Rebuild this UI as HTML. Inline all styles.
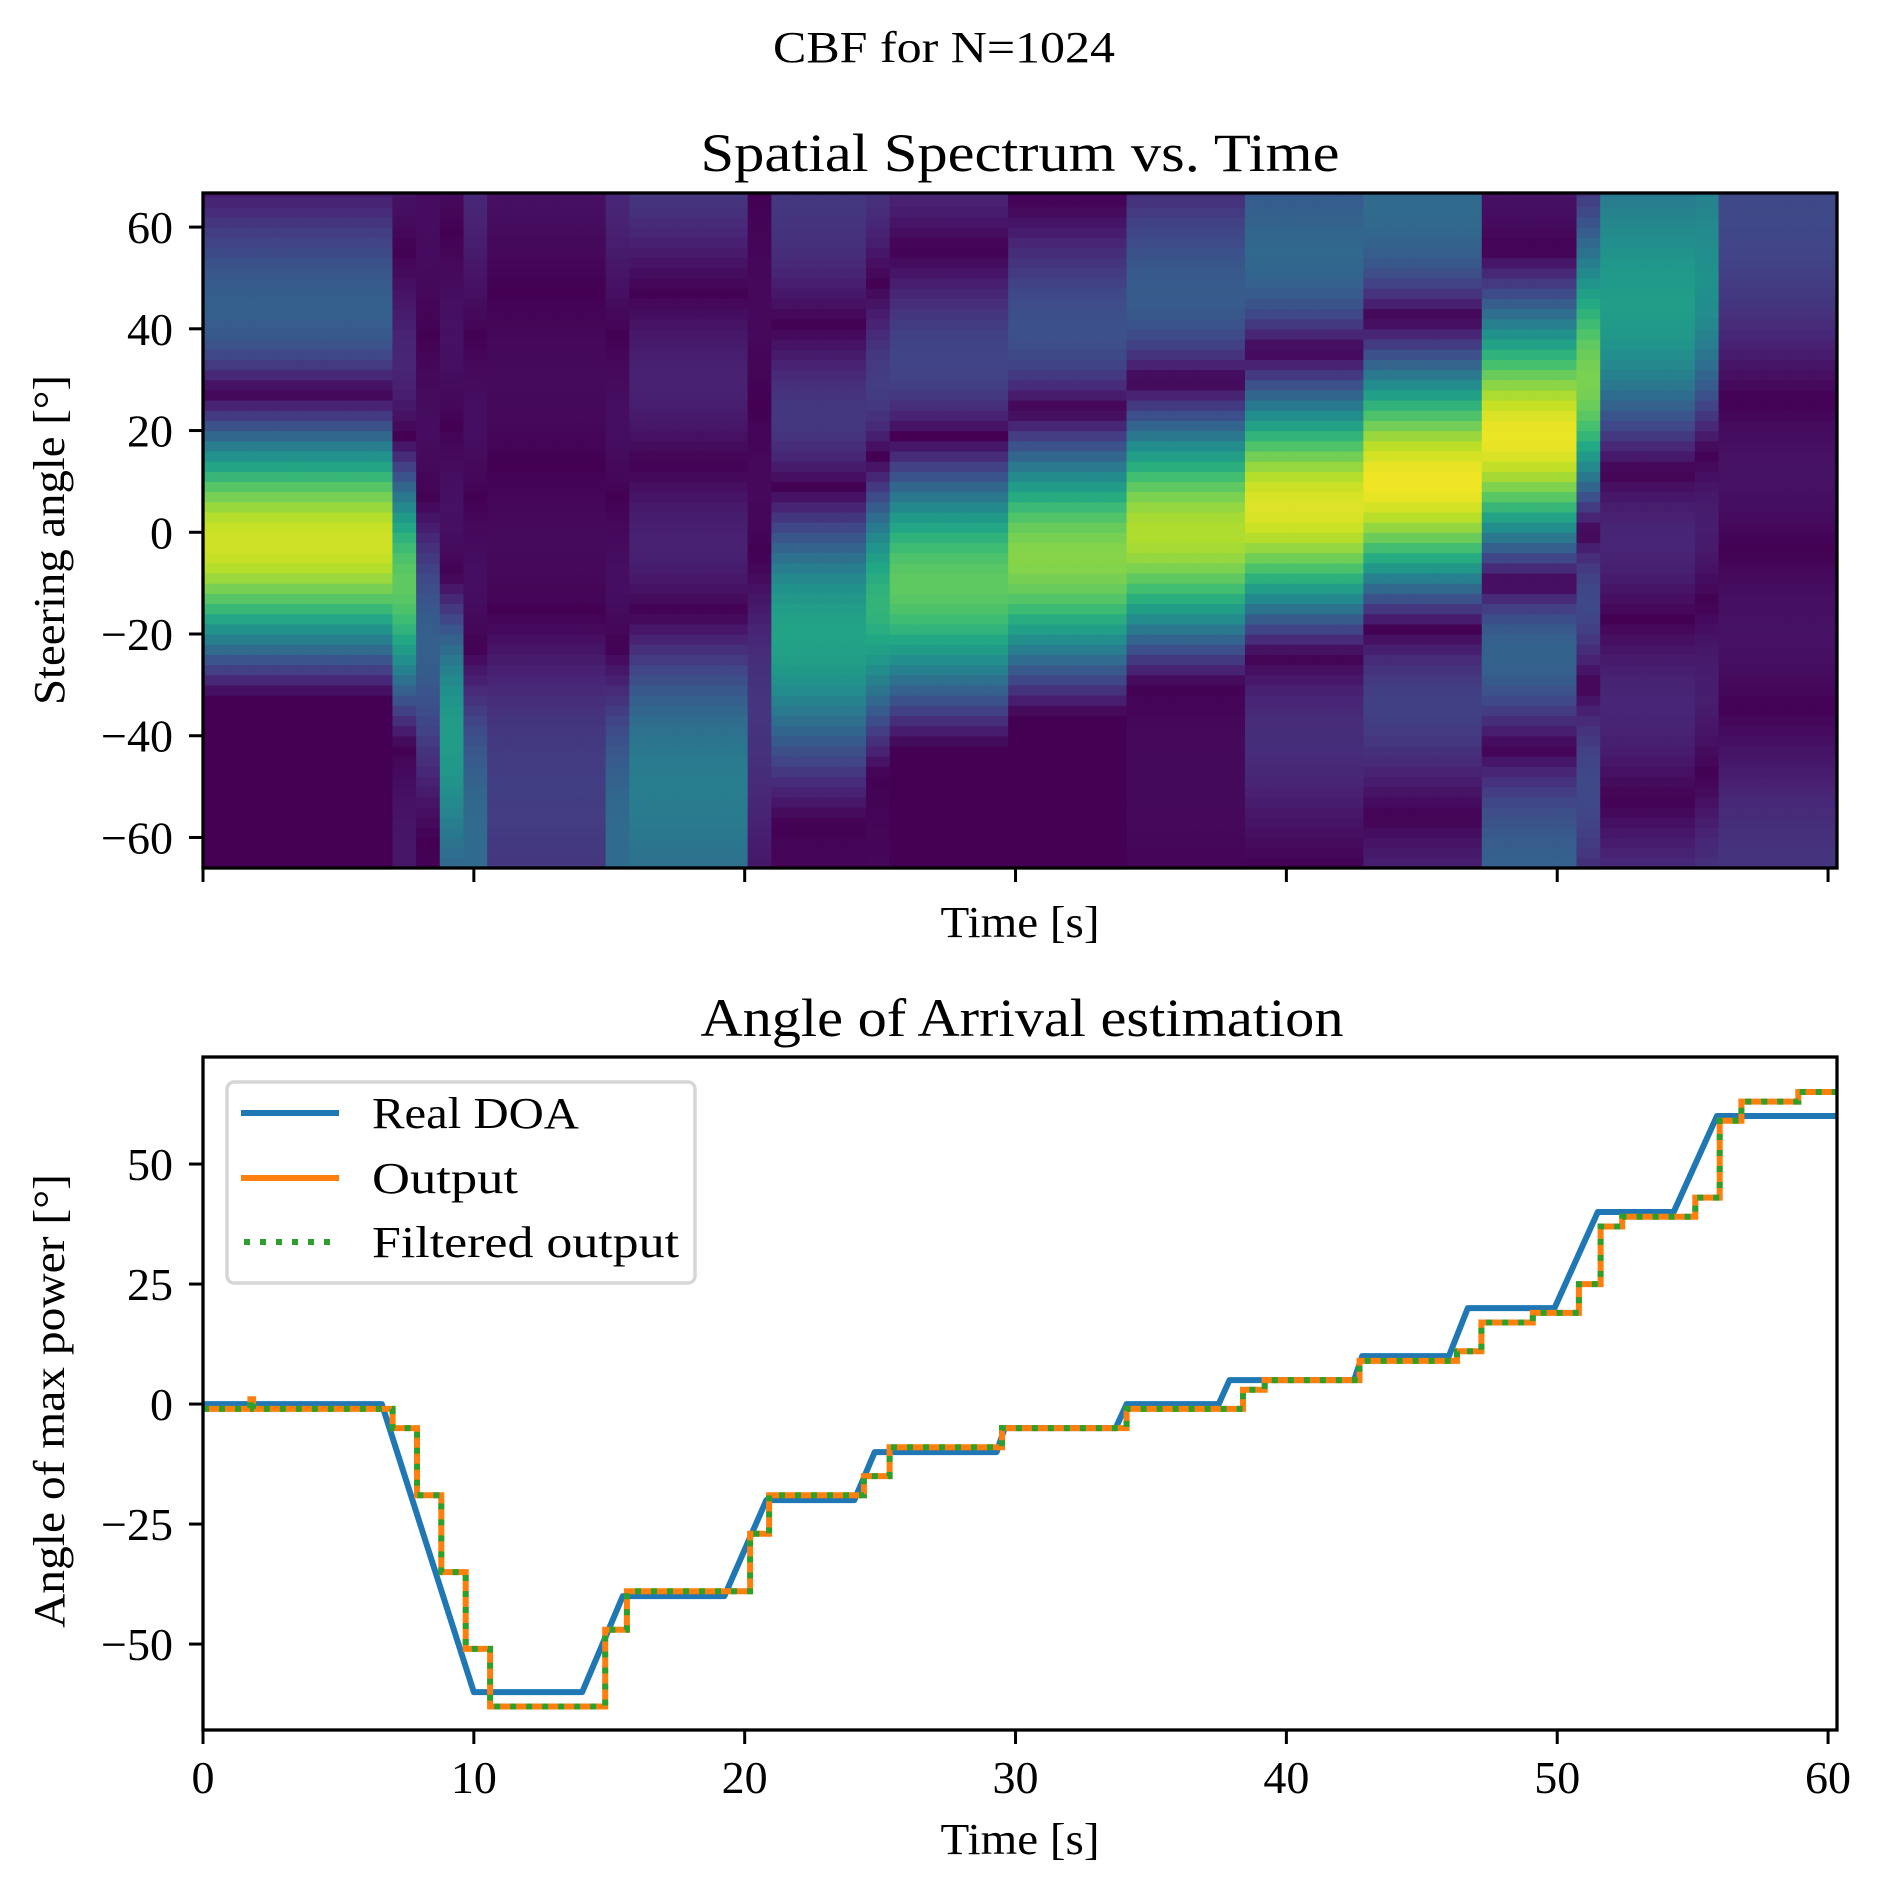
<!DOCTYPE html>
<html><head><meta charset="utf-8"><style>
html,body{margin:0;padding:0;background:#fff;}
svg text{font-family:"Liberation Serif","DejaVu Serif",serif;fill:#000;}
</style></head><body>
<svg id="fig" xmlns="http://www.w3.org/2000/svg" width="1880" height="1892" viewBox="0 0 1880 1892">
<rect x="0" y="0" width="1880" height="1892" fill="#fff"/>
<text x="944" y="62" font-size="44" text-anchor="middle" textLength="342" lengthAdjust="spacingAndGlyphs">CBF for N=1024</text>
<text x="1020" y="171" font-size="54" text-anchor="middle" textLength="639" lengthAdjust="spacingAndGlyphs">Spatial Spectrum vs. Time</text>
<g id="heat"></g>
<g id="topaxes"></g>
<text x="1020" y="937" font-size="44" text-anchor="middle" textLength="159" lengthAdjust="spacingAndGlyphs">Time [s]</text>
<text x="0" y="0" font-size="44" text-anchor="middle" textLength="330" lengthAdjust="spacingAndGlyphs" transform="translate(64,540) rotate(-90)">Steering angle [°]</text>
<text x="1022" y="1036" font-size="54" text-anchor="middle" textLength="643" lengthAdjust="spacingAndGlyphs">Angle of Arrival estimation</text>
<g id="lines"></g>
<g id="botaxes"></g>
<text x="1020" y="1854" font-size="44" text-anchor="middle" textLength="159" lengthAdjust="spacingAndGlyphs">Time [s]</text>
<text x="0" y="0" font-size="44" text-anchor="middle" textLength="454" lengthAdjust="spacingAndGlyphs" transform="translate(64,1401) rotate(-90)">Angle of max power [°]</text>
<g>
<rect x="227" y="1082" width="468" height="201" rx="7" fill="#fff" stroke="#d6d6d6" stroke-width="3.5"/>
<line x1="241" y1="1113" x2="339" y2="1113" stroke="#1f77b4" stroke-width="6"/>
<text x="372" y="1128" font-size="44" textLength="207" lengthAdjust="spacingAndGlyphs">Real DOA</text>
<line x1="241" y1="1178" x2="339" y2="1178" stroke="#ff7f0e" stroke-width="6"/>
<text x="372" y="1193" font-size="44" textLength="146" lengthAdjust="spacingAndGlyphs">Output</text>
<line x1="244" y1="1242" x2="339" y2="1242" stroke="#2ca02c" stroke-width="6" stroke-dasharray="6,10"/>
<text x="372" y="1257" font-size="44" textLength="307" lengthAdjust="spacingAndGlyphs">Filtered output</text>
</g>
</svg>
<script>
// ---- heatmap data (segments of time columns) ----
const segEndCol = [8, 9, 10, 11, 12, 17, 18, 23, 24, 28, 29, 34, 39, 44, 49, 54, 58, 59, 63, 64, 69];
const segDoa    = [-2, -10, -22, -40, -62, -50, -62, -50, -35, -20, -14, -10, -5, 0, 5, 10, 19, 30, 45, 50, 70];
const segGain   = [0.93, 0.75, 0.3, 0.55, 0.35, 0.18, 0.35, 0.42, 0.15, 0.58, 0.65, 0.75, 0.82, 0.88, 0.95, 0.98, 0.97, 0.8, 0.55, 0.5, 0.22];
const segSideUp = [1.2, 0.5, 0.4, 0.3, 0.4, 0.5, 0.4, 0.8, 0.5, 1.0, 1.0, 1.0, 1.1, 1.2, 1.3, 1.3, 0.3, 0.5, 0.8, 0.8, 0.8];
const segSideLo = [0.0, 0.3, 0.3, 0.5, 0.5, 0.5, 0.5, 0.5, 0.5, 0.2, 0.1, 0.0, 0.0, 0.1, 0.5, 0.7, 1.2, 1.0, 0.7, 0.6, 0.8];
// ---- line data ----
const realT   = [0, 6.6, 10.0, 14.0, 15.5, 19.25, 20.8, 24.05, 24.8, 29.3, 29.6, 33.7, 34.1, 37.5, 37.9, 42.5, 42.8, 46.0, 46.7, 49.9, 51.5, 54.3, 55.9, 60.33];
const realV   = [0, 0, -60, -60, -40, -40, -20, -20, -10, -10, -5, -5, 0, 0, 5, 5, 10, 10, 20, 20, 40, 40, 60, 60];
const outT    = [0, 1.75, 1.85, 7.0, 7.9, 8.8, 9.7, 10.6, 14.85, 15.65, 20.2, 20.9, 24.4, 25.35, 29.5, 34.1, 38.4, 39.2, 42.7, 46.3, 47.2, 49.1, 50.8, 51.6, 52.4, 55.1, 56.0, 56.8, 58.9];
const outV    = [-1, 1, -1, -5, -19, -35, -51, -63, -47, -39, -27, -19, -15, -9, -5, -1, 3, 5, 9, 11, 17, 19, 25, 37, 39, 43, 59, 63, 65];
const xTicks = [0, 10, 20, 30, 40, 50, 60];
const topYTicks = [-60, -40, -20, 0, 20, 40, 60];
const botYTicks = [-50, -25, 0, 25, 50];

const NS = "http://www.w3.org/2000/svg";
const L = 203, R = 1837, XMAX = 60.33;
const TT = 193, TB = 868, TYMIN = -66.0, TYMAX = 66.7;
const BT = 1057, BB = 1730, BYMIN = -67.9, BYMAX = 72.3;
const xs = t => L + t / XMAX * (R - L);
const yTop = a => TB - (a - TYMIN) / (TYMAX - TYMIN) * (TB - TT);
const yBot = a => BB - (a - BYMIN) / (BYMAX - BYMIN) * (BB - BT);
function mk(tag, attrs, parent) { const e = document.createElementNS(NS, tag); for (const k in attrs) e.setAttribute(k, attrs[k]); parent.appendChild(e); return e; }
const vir = ["#440154","#482475","#414487","#355f8d","#2a788e","#21918c","#22a884","#44bf70","#7ad151","#bddf26","#fde725"];
function hex(h){return [1,3,5].map(i=>parseInt(h.substr(i,2),16));}
function viridis(v){v=Math.max(0,Math.min(1,v));const p=v*10,i=Math.min(9,Math.floor(p)),f=p-i;const a=hex(vir[i]),b=hex(vir[i+1]);return "rgb("+a.map((c,k)=>Math.round(c+(b[k]-c)*f)).join(",")+")";}

// heatmap
const heat = document.getElementById("heat");
const NCOL = 69, colW = XMAX / NCOL, M = 4;
for (let c = 0; c < NCOL; c++) {
  let s = 0; while (segEndCol[s] <= c) s++;
  const th0 = segDoa[s] * Math.PI / 180;
  for (let a = -66; a < 66.7; a += 2) {
    const u = Math.sin((a + 1) * Math.PI / 180) - Math.sin(th0);
    const d = Math.sin(Math.PI * u / 2);
    let af = Math.abs(d) < 1e-6 ? 1 : Math.abs(Math.sin(M * Math.PI * u / 2) / (M * d));
    if (Math.abs(u) > 2 / M) af *= (u > 0 ? segSideUp[s] : segSideLo[s]);
    const x0 = xs(c * colW), x1 = xs((c + 1) * colW);
    const y0 = yTop(Math.min(a + 2, TYMAX)), y1 = yTop(a);
    const r = mk("rect", {x: x0.toFixed(2), y: y0.toFixed(2), width: (x1 - x0 + 0.6).toFixed(2), height: (y1 - y0 + 0.6).toFixed(2), fill: viridis(segGain[s] * af)}, heat);
    
    
  }
}

function axes(g, top, bot, ticksY, yf, labels) {
  for (const t of xTicks) {
    const l = mk("line", {x1: xs(t), x2: xs(t), y1: bot, y2: bot + 14, stroke: "#000", "stroke-width": 3}, g);
    
    
    if (labels) {
      const tx = mk("text", {x: xs(t), y: bot + 63, "font-size": 46, "text-anchor": "middle"}, g);
      tx.textContent = t;
      
      
    }
  }
  for (const v of ticksY) {
    const y = yf(v);
    const l = mk("line", {x1: L - 14, x2: L, y1: y, y2: y, stroke: "#000", "stroke-width": 3}, g);
    
    
    const tx = mk("text", {x: 173, y: y + 16, "font-size": 46, "text-anchor": "end"}, g);
    tx.textContent = v < 0 ? "\u2212" + Math.abs(v) : String(v);
    
    
  }
  const fr = mk("rect", {x: L, y: top, width: R - L, height: bot - top, fill: "none", stroke: "#000", "stroke-width": 3.3}, g);
  
  
}
axes(document.getElementById("topaxes"), TT, TB, topYTicks, yTop, false);

// lines
const lines = document.getElementById("lines");
const clip = mk("clipPath", {id: "bclip"}, lines);
mk("rect", {x: L, y: BT, width: R - L, height: BB - BT}, clip);
const realPts = realT.map((t, i) => xs(t).toFixed(1) + "," + yBot(realV[i]).toFixed(1)).join(" ");
let stepPts = [];
for (let i = 0; i < outT.length; i++) {
  const tEnd = i + 1 < outT.length ? outT[i + 1] : XMAX;
  stepPts.push(xs(outT[i]).toFixed(1) + "," + yBot(outV[i]).toFixed(1));
  stepPts.push(xs(tEnd).toFixed(1) + "," + yBot(outV[i]).toFixed(1));
}
stepPts = stepPts.join(" ");
const pr = mk("polyline", {points: realPts, fill: "none", stroke: "#1f77b4", "stroke-width": 6, "stroke-linejoin": "round", "clip-path": "url(#bclip)"}, lines);


const po = mk("polyline", {points: stepPts, fill: "none", stroke: "#ff7f0e", "stroke-width": 6, "clip-path": "url(#bclip)"}, lines);


const pf = mk("polyline", {points: stepPts, fill: "none", stroke: "#2ca02c", "stroke-width": 6, "stroke-dasharray": "6,10", "clip-path": "url(#bclip)"}, lines);



axes(document.getElementById("botaxes"), BT, BB, botYTicks, yBot, true);
</script>
</body></html>
